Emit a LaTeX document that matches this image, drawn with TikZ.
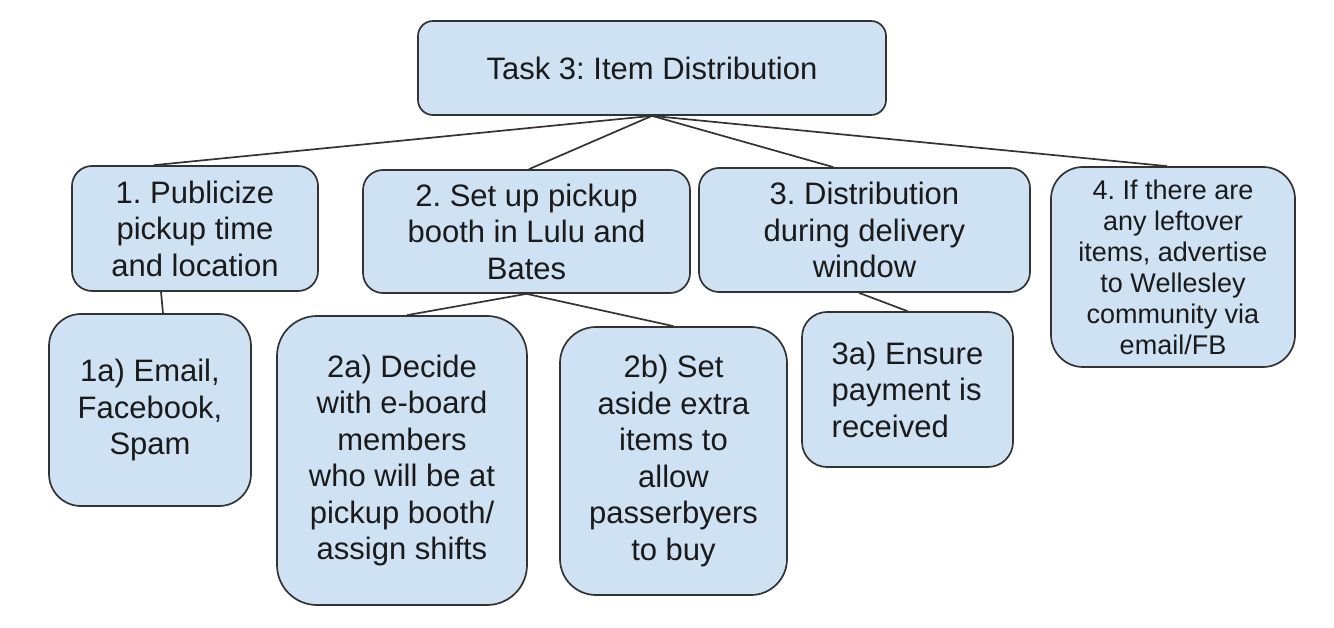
\documentclass[tikz,border=0pt]{standalone}
\usepackage{fontspec}
\setmainfont{Liberation Sans}
\usetikzlibrary{calc}
\definecolor{boxfill}{HTML}{CFE2F3}
\definecolor{edge}{HTML}{333333}
\definecolor{txt}{HTML}{1A1A1A}
\frenchspacing
\tikzset{
  box/.style={draw=edge, fill=boxfill, line width=1.7pt, inner sep=0pt, align=center,
    text=txt, font=\frenchspacing\fontsize{31}{36.5}\selectfont},
  smallbox/.style={box, font=\frenchspacing\fontsize{27}{31}\selectfont},
  link/.style={draw=edge, line width=1.7pt}
}
\begin{document}
\begin{tikzpicture}[x=1pt,y=-1pt]
\useasboundingbox (0,0) rectangle (1334,628);
\node[box, minimum width=468pt, minimum height=94pt, rounded corners=15pt] (top) at (652,68) {Task 3: Item Distribution};
\node[box, minimum width=246pt, minimum height=125pt, rounded corners=20pt] (b1) at (195,228.5) {1. Publicize\\pickup time\\and location};
\node[box, minimum width=327pt, minimum height=123pt, rounded corners=20pt] (b2) at (526.5,231.5) {2. Set up pickup\\booth in Lulu and\\Bates};
\node[box, minimum width=331pt, minimum height=124pt, rounded corners=20pt] (b3) at (864.5,230) {3. Distribution\\during delivery\\window};
\node[smallbox, minimum width=244pt, minimum height=200pt, rounded corners=32pt] (b4) at (1173,267) {4. If there are\\any leftover\\items, advertise\\to Wellesley\\community via\\email/FB};
\node[box, minimum width=202pt, minimum height=192pt, rounded corners=32pt] (b1a) at (150,410) {1a) Email,\\Facebook,\\Spam};
\node[box, minimum width=250pt, minimum height=289pt, rounded corners=40pt] (b2a) at (402,460.5) {2a) Decide\\with e-board\\members\\who will be at\\pickup booth/\\assign shifts};
\node[box, minimum width=227pt, minimum height=268pt, rounded corners=36pt] (b2b) at (673.5,461) {2b) Set\\aside extra\\items to\\allow\\passerbyers\\to buy};
\node[box, align=left, minimum width=211pt, minimum height=155pt, rounded corners=25pt] (b3a) at (907.5,389.5) {3a) Ensure\\payment is\\received};
\draw[link] (top.south) -- ([xshift=-41pt]b1.north);
\draw[link] (top.south) -- ([xshift=2.5pt]b2.north);
\draw[link] (top.south) -- ([xshift=-31pt]b3.north);
\draw[link] (top.south) -- ([xshift=-6pt]b4.north);
\draw[link] ([xshift=-34pt]b1.south) -- ([xshift=13pt]b1a.north);
\draw[link] (b2.south) -- ([xshift=5pt]b2a.north);
\draw[link] (b2.south) -- (b2b.north);
\draw[link] ([xshift=-5.5pt]b3.south) -- (b3a.north);
\end{tikzpicture}
\end{document}
